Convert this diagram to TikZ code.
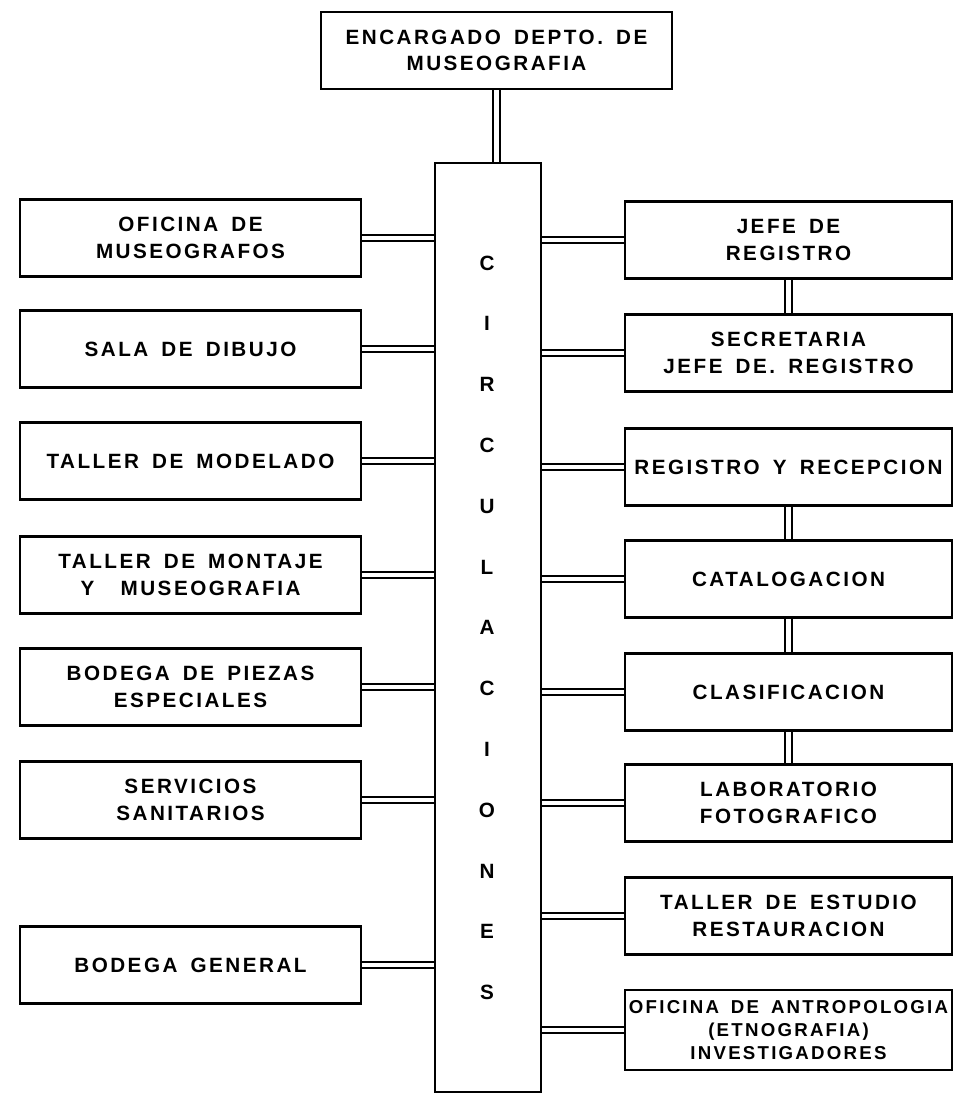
\documentclass[tikz,border=0pt]{standalone}
\usepackage{fontspec}
\newfontfamily\letterfont[LetterSpace=12,WordSpace=1.6]{Liberation Sans}
\usetikzlibrary{backgrounds}

\begin{document}
\begin{tikzpicture}[x=0.75pt, y=-0.75pt,
	every node/.style={font=\letterfont\bfseries\fontsize{15.5}{20}\selectfont},
	box/.style={draw, line width=2pt, fill=white, align=center, minimum height=57.75pt, inner sep=2pt},
	leftbox/.style={box, minimum width=255.75pt},
	rightbox/.style={box, minimum width=245.25pt},
	link/.style={draw, line width=1.3pt, double=white, double distance=3.5pt}]
	\useasboundingbox (0,0) rectangle (954,1095);
	\node[box, minimum width=263.25pt] (encargado) at (496.5,50.5) {ENCARGADO DEPTO. DE\\MUSEOGRAFIA};
	\node[draw, line width=2pt, fill=white, minimum width=79.5pt, minimum height=696.75pt] (circ) at (488,627.5) {};
	\foreach \l [count=\i from 0] in {C,I,R,C,U,L,A,C,I,O,N,E,S}
		\node (c\i) at (487,263+60.8*\i) {\l};
	\foreach \n/\y/\t in {museografos/238/{OFICINA DE\\MUSEOGRAFOS}, dibujo/349/{SALA DE DIBUJO},
		modelado/461/{TALLER DE MODELADO}, montaje/575/{TALLER DE MONTAJE\\Y~~MUSEOGRAFIA},
		piezas/687/{BODEGA DE PIEZAS\\ESPECIALES}, sanitarios/800/{SERVICIOS\\SANITARIOS},
		general/965/{BODEGA GENERAL}}
		\node[leftbox] (\n) at (190.5,\y) {\t};
	\foreach \n/\y/\t in {jefe/240/{JEFE DE\\REGISTRO}, secretaria/353/{SECRETARIA\\JEFE DE. REGISTRO},
		recepcion/467/{REGISTRO Y RECEPCION}, catalogacion/579/{CATALOGACION},
		clasificacion/692/{CLASIFICACION}, fotografico/803/{LABORATORIO\\FOTOGRAFICO},
		restauracion/916/{TALLER DE ESTUDIO\\RESTAURACION}}
		\node[rightbox] (\n) at (788.5,\y) {\t};
	\node[rightbox, minimum height=60pt, font=\letterfont\bfseries\fontsize{14}{17}\selectfont] (antropologia) at (788.5,1030) {OFICINA DE ANTROPOLOGIA\\(ETNOGRAFIA)\\INVESTIGADORES};
	\begin{scope}[on background layer]
		\draw[link] (encargado.south) -- (encargado.south |- circ.north);
		\foreach \n in {museografos, dibujo, modelado, montaje, piezas, sanitarios, general}
			\draw[link] (\n.east) -- (\n.east -| circ.west);
		\foreach \n in {jefe, secretaria, recepcion, catalogacion, clasificacion, fotografico, restauracion, antropologia}
			\draw[link] (\n.west) -- (\n.west -| circ.east);
		\foreach \a/\b in {jefe/secretaria, recepcion/catalogacion, catalogacion/clasificacion, clasificacion/fotografico}
			\draw[link] (\a.south) -- (\b.north);
	\end{scope}
\end{tikzpicture}
\end{document}
